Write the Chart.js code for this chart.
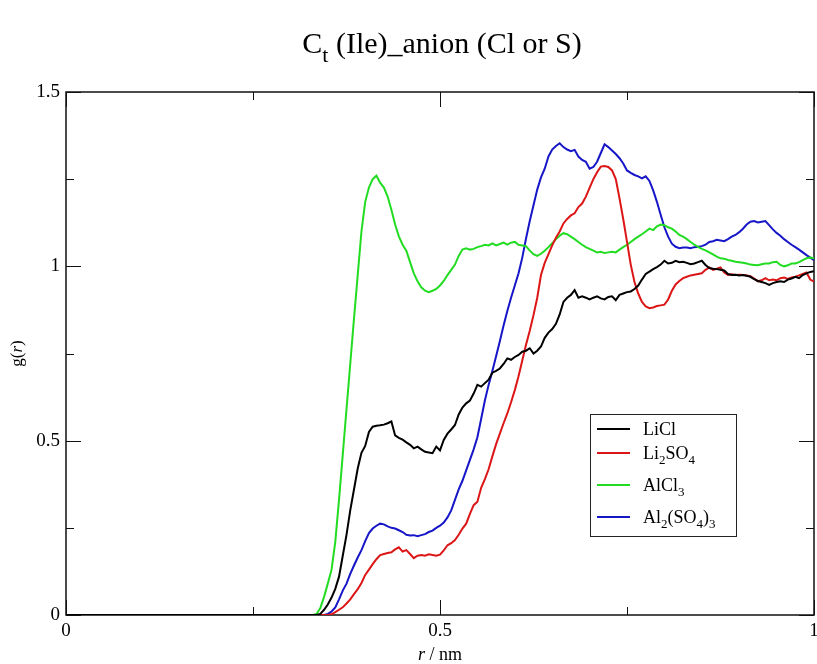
<!DOCTYPE html>
<html>
<head>
<meta charset="utf-8">
<title>Ct (Ile)_anion (Cl or S)</title>
<script src="https://cdn.jsdelivr.net/npm/chart.js@4.4.1/dist/chart.umd.min.js"></script>
<style>
  html, body { margin: 0; padding: 0; background: #fff; }
</style>
</head>
<body>
<canvas id="rdf" width="817" height="664"></canvas>
<script>
// r grid in nm: the origin, then 0.300 .. 1.000 every 0.005
const rValues = [0].concat(Array.from({ length: 141 }, (_, i) => +(0.3 + i * 0.005).toFixed(3)));

// g(r) per salt; first value is r = 0, then one line per 0.05 nm starting at 0.30
const gLiCl = [0,
  0, 0, 0, 0, 0, 0, 0, 0, 0.003, 0.015,
  0.03, 0.05, 0.075, 0.11, 0.17, 0.23, 0.3, 0.36, 0.42, 0.465,
  0.485, 0.525, 0.54, 0.543, 0.544, 0.546, 0.55, 0.555, 0.515, 0.508,
  0.503, 0.495, 0.488, 0.478, 0.483, 0.475, 0.468, 0.466, 0.464, 0.483,
  0.472, 0.502, 0.52, 0.532, 0.545, 0.575, 0.595, 0.607, 0.615, 0.635,
  0.66, 0.655, 0.665, 0.675, 0.695, 0.7, 0.707, 0.72, 0.736, 0.732,
  0.74, 0.746, 0.755, 0.758, 0.765, 0.75, 0.758, 0.77, 0.795, 0.81,
  0.82, 0.835, 0.862, 0.898, 0.91, 0.918, 0.932, 0.91, 0.914, 0.91,
  0.905, 0.91, 0.914, 0.908, 0.905, 0.912, 0.914, 0.903, 0.918, 0.922,
  0.926, 0.928, 0.935, 0.945, 0.962, 0.978, 0.985, 0.992, 0.998, 1.005,
  1.016, 1.008, 1.01, 1.016, 1.012, 1.013, 1.01, 1.006, 1.008, 1.012,
  1.016, 1.004, 0.995, 0.993, 0.992, 0.99, 0.988, 0.978, 0.975, 0.976,
  0.974, 0.975, 0.973, 0.97, 0.963, 0.958, 0.955, 0.952, 0.947, 0.952,
  0.955, 0.957, 0.955, 0.962, 0.965, 0.97, 0.966, 0.975, 0.98, 0.984,
  0.986
];

const gLi2SO4 = [0,
  0, 0, 0, 0, 0, 0, 0, 0, 0, 0,
  0, 0.002, 0.008, 0.015, 0.022, 0.033, 0.045, 0.06, 0.074, 0.092,
  0.115, 0.13, 0.146, 0.16, 0.172, 0.175, 0.178, 0.18, 0.188, 0.194,
  0.182, 0.186, 0.175, 0.163, 0.17, 0.172, 0.17, 0.174, 0.172, 0.17,
  0.173, 0.185, 0.2, 0.206, 0.215, 0.23, 0.248, 0.262, 0.29, 0.315,
  0.325, 0.365, 0.39, 0.418, 0.455, 0.49, 0.52, 0.55, 0.578, 0.61,
  0.645, 0.685, 0.73, 0.775, 0.815, 0.86, 0.91, 0.975, 1.01, 1.035,
  1.06, 1.082, 1.1, 1.123, 1.136, 1.146, 1.152, 1.17, 1.18, 1.2,
  1.225, 1.25, 1.27, 1.286, 1.288, 1.285, 1.275, 1.25, 1.195, 1.135,
  1.07, 1.005, 0.955, 0.922, 0.898, 0.885, 0.88, 0.882, 0.886, 0.888,
  0.89, 0.905, 0.93, 0.948, 0.958, 0.966, 0.97, 0.974, 0.976, 0.978,
  0.98, 0.99, 0.997, 0.99, 0.993, 0.997, 0.982, 0.975, 0.977, 0.975,
  0.976, 0.975, 0.974, 0.972, 0.965, 0.957, 0.96, 0.966, 0.96, 0.962,
  0.96, 0.966, 0.968, 0.964, 0.968, 0.97, 0.974, 0.978, 0.982, 0.962,
  0.956
];

const gAlCl3 = [0,
  0, 0, 0, 0, 0, 0, 0, 0.003, 0.02, 0.052,
  0.09, 0.13, 0.21, 0.33, 0.46, 0.59, 0.72, 0.85, 0.975, 1.1,
  1.185, 1.226, 1.25, 1.26, 1.24, 1.226, 1.2, 1.162, 1.12, 1.086,
  1.062, 1.045, 1.012, 0.98, 0.957, 0.94, 0.93, 0.926, 0.93, 0.935,
  0.945, 0.958, 0.975, 0.99, 1.005, 1.03, 1.048, 1.052, 1.048, 1.05,
  1.055, 1.058, 1.062, 1.06, 1.066, 1.06, 1.064, 1.068, 1.062, 1.068,
  1.07, 1.062, 1.06, 1.058, 1.045, 1.035, 1.03, 1.036, 1.045, 1.055,
  1.066, 1.078, 1.088, 1.095, 1.092, 1.085, 1.078, 1.07, 1.062, 1.055,
  1.05, 1.045, 1.04, 1.042, 1.038, 1.04, 1.042, 1.04, 1.048, 1.055,
  1.062, 1.07, 1.078, 1.085, 1.092, 1.1, 1.108, 1.104, 1.115, 1.12,
  1.118, 1.112, 1.108, 1.1, 1.09, 1.085, 1.078, 1.07, 1.062, 1.056,
  1.05, 1.046, 1.04, 1.034, 1.028, 1.023, 1.022, 1.018, 1.016, 1.013,
  1.012, 1.01, 1.008, 1.005, 1.004, 1.003, 1.006, 1.008, 1.008, 1.012,
  1.013, 1.004, 1.0, 1.003, 1.008, 1.008, 1.012, 1.018, 1.023, 1.025,
  1.023
];

const gAl2SO43 = [0,
  0, 0, 0, 0, 0, 0, 0, 0, 0, 0,
  0.003, 0.01, 0.022, 0.045, 0.07, 0.09, 0.118, 0.142, 0.165, 0.186,
  0.212, 0.235, 0.248, 0.256, 0.262, 0.26, 0.254, 0.25, 0.248, 0.243,
  0.238, 0.23, 0.228, 0.229, 0.226, 0.229, 0.232, 0.238, 0.242, 0.25,
  0.256, 0.265, 0.28, 0.3, 0.33, 0.36, 0.385, 0.415, 0.445, 0.475,
  0.51, 0.562, 0.615, 0.66, 0.7, 0.742, 0.785, 0.83, 0.872, 0.91,
  0.945, 0.98, 1.025, 1.08, 1.13, 1.175, 1.22, 1.255, 1.28, 1.315,
  1.335, 1.345, 1.353, 1.342, 1.335, 1.33, 1.334, 1.315, 1.305, 1.3,
  1.28, 1.285, 1.3, 1.325, 1.35, 1.342, 1.332, 1.322, 1.31, 1.295,
  1.275, 1.268, 1.262, 1.258, 1.252, 1.258, 1.245, 1.218, 1.185, 1.148,
  1.112, 1.085, 1.065, 1.056, 1.052, 1.054, 1.054, 1.052, 1.055, 1.056,
  1.058, 1.062, 1.07, 1.072, 1.076, 1.074, 1.072, 1.078, 1.085, 1.09,
  1.098, 1.108, 1.12, 1.128, 1.13, 1.126, 1.128, 1.13, 1.118, 1.106,
  1.096, 1.088, 1.078, 1.07, 1.062, 1.055, 1.048, 1.04, 1.032, 1.025,
  1.018
];

// legend text: {..} marks a subscript
const seriesLabels = ['LiCl', 'Li{2}SO{4}', 'AlCl{3}', 'Al{2}(SO{4}){3}'];
const seriesColors = ['#000000', '#dc1616', '#22dc22', '#1616c8'];
const seriesValues = [gLiCl, gLi2SO4, gAlCl3, gAl2SO43];

const xTicks = [0, 0.5, 1];
const xMinorTicks = [0.25, 0.75];
const yTicks = [0, 0.5, 1, 1.5];
const yMinorTicks = [0.25, 0.75, 1.25];

const SERIF = '"Liberation Serif", "Times New Roman", serif';

function parseRich(label) {
  const parts = [];
  label.split(/(\{[^}]*\})/).forEach(s => {
    if (!s) return;
    if (s[0] === '{') parts.push({ t: s.slice(1, -1), sub: true });
    else parts.push({ t: s });
  });
  return parts;
}

// draws a run of text pieces, some italic or lowered as subscripts
function drawRich(ctx, parts, x, y, size, align) {
  const fontFor = p => (p.italic ? 'italic ' : '') + (p.sub ? Math.round(size * 0.72) : size) + 'px ' + SERIF;
  let total = 0;
  parts.forEach(p => { ctx.font = fontFor(p); total += ctx.measureText(p.t).width; });
  let cx = align === 'center' ? x - total / 2 : x;
  ctx.textAlign = 'left';
  ctx.textBaseline = 'alphabetic';
  parts.forEach(p => {
    ctx.font = fontFor(p);
    ctx.fillText(p.t, cx, y + (p.sub ? size * 0.3 : 0));
    cx += ctx.measureText(p.t).width;
  });
}

// frame with inward ticks on all four sides
const framePlugin = {
  id: 'frame',
  beforeDatasetsDraw(chart) {
    const { ctx, chartArea: a, scales } = chart;
    ctx.save();
    ctx.strokeStyle = '#111';
    ctx.lineWidth = 1.5;
    ctx.strokeRect(a.left, a.top, a.right - a.left, a.bottom - a.top);
    ctx.lineWidth = 1;
    const tickX = (v, len) => {
      const px = Math.round(scales.x.getPixelForValue(v)) + 0.5;
      ctx.beginPath();
      ctx.moveTo(px, a.bottom); ctx.lineTo(px, a.bottom - len);
      ctx.moveTo(px, a.top); ctx.lineTo(px, a.top + len);
      ctx.stroke();
    };
    const tickY = (v, len) => {
      const py = Math.round(scales.y.getPixelForValue(v)) + 0.5;
      ctx.beginPath();
      ctx.moveTo(a.left, py); ctx.lineTo(a.left + len, py);
      ctx.moveTo(a.right, py); ctx.lineTo(a.right - len, py);
      ctx.stroke();
    };
    xTicks.forEach(v => tickX(v, 15));
    xMinorTicks.forEach(v => tickX(v, 8));
    yTicks.forEach(v => tickY(v, 15));
    yMinorTicks.forEach(v => tickY(v, 8));
    ctx.restore();
  },
  afterDraw(chart) {
    const { ctx, chartArea: a } = chart;
    ctx.save();
    ctx.fillStyle = '#000';
    const midX = (a.left + a.right) / 2;
    drawRich(ctx, [{ t: 'C' }, { t: 't', sub: true }, { t: ' (Ile)_anion (Cl or S)' }], midX + 2, 53, 30, 'center');
    drawRich(ctx, [{ t: 'r', italic: true }, { t: ' / nm' }], midX, 660, 18, 'center');
    ctx.save();
    ctx.translate(22, (a.top + a.bottom) / 2);
    ctx.rotate(-Math.PI / 2);
    drawRich(ctx, [{ t: 'g(' }, { t: 'r', italic: true }, { t: ')' }], 0, 0, 17, 'center');
    ctx.restore();

    // legend box
    const box = { x: 590, y: 414, w: 146, h: 122 };
    const rows = [429, 453, 485, 517];
    ctx.fillStyle = '#fff';
    ctx.fillRect(box.x, box.y, box.w, box.h);
    ctx.strokeStyle = '#222';
    ctx.lineWidth = 1;
    ctx.strokeRect(box.x + 0.5, box.y + 0.5, box.w, box.h);
    seriesLabels.forEach((label, i) => {
      ctx.strokeStyle = seriesColors[i];
      ctx.lineWidth = 2;
      ctx.beginPath();
      ctx.moveTo(597, rows[i]);
      ctx.lineTo(630, rows[i]);
      ctx.stroke();
      ctx.fillStyle = '#000';
      drawRich(ctx, parseRich(label), 643, rows[i] + 6, 18, 'left');
    });
    ctx.restore();
  }
};

// plain number labels: 0, 0.5, 1, 1.5
const plainLabel = v => String(v);

new Chart(document.getElementById('rdf'), {
  type: 'line',
  data: {
    datasets: seriesValues.map((vals, i) => ({
      label: seriesLabels[i].replace(/[{}]/g, ''),
      data: vals.map((g, j) => ({ x: rValues[j], y: g })),
      borderColor: seriesColors[i],
      borderWidth: 2,
      pointRadius: 0,
      tension: 0,
      fill: false
    }))
  },
  options: {
    responsive: false,
    animation: false,
    devicePixelRatio: 1,
    layout: { padding: { top: 92, right: 3, left: 0, bottom: 0 } },
    plugins: {
      legend: { display: false },
      title: { display: false },
      tooltip: { enabled: false }
    },
    scales: {
      x: {
        type: 'linear',
        min: 0,
        max: 1,
        grid: { display: false, drawTicks: false },
        border: { display: false },
        afterBuildTicks: s => { s.ticks = xTicks.map(v => ({ value: v })); },
        afterFit: s => { s.height = 49; s.paddingLeft = 0; s.paddingRight = 0; },
        ticks: {
          autoSkip: false,
          maxRotation: 0,
          padding: 5,
          color: '#000',
          font: { family: SERIF, size: 19 },
          callback: plainLabel
        }
      },
      y: {
        type: 'linear',
        min: 0,
        max: 1.5,
        grid: { display: false, drawTicks: false },
        border: { display: false },
        afterBuildTicks: s => { s.ticks = yTicks.map(v => ({ value: v })); },
        afterFit: s => { s.width = 66; s.paddingTop = 0; s.paddingBottom = 0; },
        ticks: {
          autoSkip: false,
          padding: 6,
          color: '#000',
          font: { family: SERIF, size: 19 },
          callback: plainLabel
        }
      }
    }
  },
  plugins: [framePlugin]
});
</script>
</body>
</html>
